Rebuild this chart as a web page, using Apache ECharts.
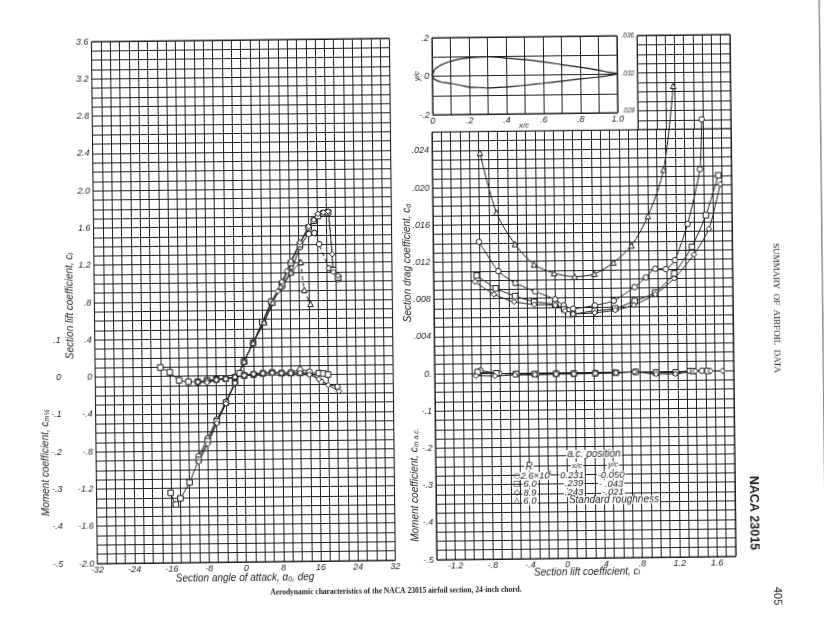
<!DOCTYPE html>
<html><head><meta charset="utf-8">
<style>html,body{margin:0;padding:0;background:#fff;overflow:hidden}#c{width:824px;height:636px;transform:rotate(-0.65deg);transform-origin:412px 318px}</style>
<script src="https://cdn.jsdelivr.net/npm/echarts@6/dist/echarts.min.js"></script>
</head><body><div id="c"></div>
<script>
// ---- left panel: section angle of attack vs. lift coefficient ----
const liftCircle=[[-10,-.86],[-8,-.67],[-6,-.47],[-4,-.28],[-2,-.07],[0,.15],[2,.35],[4,.56],[6,.77],[8.4,.95],[10.3,1.1],[12.3,1.37],[14.2,1.51],[15.4,1.52]];
const liftCircleStall=[[15.4,1.52],[16.4,1.4],[18.5,1.14],[20.4,1.02]];
const liftSquare=[[-16.1,-1.25],[-15,-1.375],[-14,-1.31],[-12,-1.14],[-10,-.9],[-8,-.7],[-6,-.49],[-4,-.29],[-2,-.08],[0,.15],[2,.35],[4,.57],[6,.79],[8.3,.98],[10.3,1.2],[12.3,1.4],[14.2,1.58],[15.3,1.65],[16.2,1.7],[17.4,1.73]];
const liftSquareStall=[[17.4,1.73],[18.4,1.74],[19.4,1.12],[20.4,1.04]];
const liftDiamond=[[-10,-.92],[-8,-.73],[-6,-.51],[-4,-.3],[-2,-.08],[0,.15],[2,.35],[4.4,.57],[6.4,.79],[7.4,.9],[8.3,1],[9.4,1.115],[10.3,1.22],[12.3,1.42],[14.2,1.59],[15.3,1.66],[16.2,1.725],[17.4,1.74],[18.4,1.75]];
const liftDiamondStall=[[18.4,1.75],[19.2,1.29],[19.4,1.1],[20.4,1.06]];
const liftRough=[[0,.15],[2,.35],[4.4,.57],[6.3,.78],[8,.95],[10.3,1.1],[12.4,1.21]];
const liftRoughStall=[[12.4,1.21],[13.1,.91],[14.4,.76]];
const momentSquareAlpha=[[-18,.024],[-16,.011],[-14,-.011],[-12,-.015],[-10,-.015],[-8,-.012],[-6,-.01],[-4,-.008],[-2,-.004],[-1,.006],[0,0],[2,.002],[4,.005],[6,.007],[8,.005],[10,.005],[12,.005],[14,.004],[16,.004],[17,.003],[18,0]];
const momentCircleAlpha=[[-10,-.017],[-8,-.015],[-6,-.011],[-4,-.008],[-2,-.004],[0,.001],[2,.004],[4,.006],[6,.007],[8,.006],[10,.007],[12,.014],[14,.008],[16.5,-.019],[20,-.033]];
const momentDiamondAlpha=[[-10,-.016],[-8,-.018],[-6,-.011],[-4,-.009],[-2,-.004],[0,0],[2,.004],[4,.005],[6,.006],[8,.005],[10,.004],[12,.005],[14,0],[16,-.012],[18,-.028],[20.3,-.045]];
// ---- right panel: lift coefficient vs. drag coefficient ----
const dragCircle=[[-.909,.01405],[-.706,.01088],[-.525,.00958],[-.315,.00866],[-.102,.00778],[-.01,.00713],[.09,.00676],[.322,.00709],[.526,.00757],[.75,.00901],[.872,.01003],[.973,.01095],[1.087,.0109],[1.185,.01185],[1.325,.0157],[1.464,.02157],[1.488,.02693]];
const dragSquare=[[-.938,.01045],[-.736,.00904],[-.53,.00819],[-.327,.00756],[-.102,.00725],[-.007,.00671],[.039,.00616],[.089,.00618],[.321,.00652],[.54,.00674],[.748,.00751],[.97,.00838],[1.176,.01042],[1.369,.01326],[1.522,.01663],[1.66,.0209]];
const dragDiamond=[[-.957,.00977],[-.755,.00839],[-.541,.00758],[-.326,.00726],[-.102,.00714],[0,.00655],[.089,.00619],[.32,.0063],[.54,.00656],[.74,.00708],[.97,.0082],[1.176,.00989],[1.39,.01243],[1.553,.01516],[1.68,.01995]];
const dragRough=[[-.888,.0236],[-.72,.01717],[-.524,.01376],[-.323,.01156],[-.11,.0106],[.111,.0102],[.322,.01048],[.527,.01167],[.722,.01347],[.901,.0166],[1.075,.02158],[1.188,.03054]];
const momentCircleLift=[[-.91,.006],[-.71,-.002],[-.52,-.004],[-.31,-.005],[-.1,-.005],[.09,-.005],[.32,-.004],[.53,-.003],[.75,-.002],[.97,-.004],[1.18,-.004],[1.33,-.001],[1.46,-.001]];
const momentSquareLift=[[-.94,.002],[-.74,-.002],[-.53,-.004],[-.33,-.005],[-.1,-.005],[.09,-.005],[.32,-.005],[.54,-.004],[.75,-.002],[.97,-.005],[1.18,-.005],[1.37,-.002],[1.52,-.002]];
const momentDiamondLift=[[-.957,-.008],[-.755,-.009],[-.54,-.007],[-.326,-.007],[-.1,-.006],[.09,-.006],[.32,-.005],[.54,-.004],[.74,-.002],[.97,-.009],[1.176,-.009],[1.39,-.002],[1.553,-.002],[1.68,-.002]];
// ---- inset: airfoil section ----
const airfoilUpper=[[0,0],[.0125,.0334],[.025,.0444],[.05,.0589],[.075,.069],[.1,.0764],[.15,.0875],[.2,.0936],[.25,.097],[.3,.098],[.4,.0902],[.5,.0812],[.6,.068],[.7,.053],[.8,.038],[.9,.021],[.95,.011],[1,.002]];
const airfoilLower=[[1,.002],[.95,-.007],[.9,-.013],[.8,-.023],[.7,-.033],[.6,-.043],[.5,-.052],[.4,-.06],[.3,-.064],[.25,-.061],[.2,-.059],[.15,-.048],[.1,-.039],[.075,-.034],[.05,-.031],[.025,-.0225],[.0125,-.0154],[0,0]];

const INK='#1c1c1c', GRID='#1e1e1e';
const FONT='"Liberation Sans"';
const TICK=9;
const S=Math.sin(0.65*Math.PI/180);
// reference-page position -> position on the slightly turned sheet
const at=(x,y)=>[x-(y-318)*S, y+(x-412)*S];
const dec=(v,d)=>{ if(Math.abs(v)<1e-9) return '0'; return (v<0?'-':'')+Math.abs(v).toFixed(d).replace(/^0/,''); };
const lab=(size,margin)=>({show:true,fontFamily:FONT,fontStyle:'italic',fontSize:size,color:INK,margin:margin});
const split={show:true,lineStyle:{color:GRID,width:1}};
const off={show:false};
function axis(min,max,interval,fmt,size,extra,margin){
  return Object.assign({type:'value',min,max,interval,axisLine:off,axisTick:off,
    splitLine:split,axisLabel:fmt?Object.assign(lab(size,margin===undefined?4:margin),{formatter:fmt}):off},extra||{});
}
const hidden=(min,max,gridIndex)=>({type:'value',gridIndex,min,max,show:false,splitLine:off});
const every=(n,f)=>v=>{const k=Math.round(v*10);return k%n===0?f(v):'';};

const xAxis=[
  axis(-32,32,2,v=>Math.round(v)%8===0?String(Math.round(v)):'',TICK,{gridIndex:0},2),
  axis(-1.4,1.8,.1,every(4,v=>dec(v,1)),TICK,{gridIndex:1},2),
  axis(.8,1.8,.1,null,0,{gridIndex:2}),
  axis(0,1,.1,every(2,v=>Math.abs(v-1)<1e-9?'1.0':dec(v,1)),TICK,{gridIndex:3},2),
  hidden(-1.4,1.8,4)
];
const yAxis=[
  axis(-2,3.6,.1,every(4,v=>dec(v,1)),TICK,{gridIndex:0},3),
  {type:'value',gridIndex:0,position:'left',offset:30,min:-.5,max:.9,interval:.1,axisLine:off,axisTick:off,splitLine:off,
    axisLabel:Object.assign(lab(TICK,4),{formatter:v=>v>.11?'':dec(v,1)})},
  axis(-.02,.026,.001,v=>{const k=Math.round(v*1000);if(k%4!==0)return '';if(k===0)return '0.';return k>0?dec(v,3):dec(v*25,1);},TICK,{gridIndex:1},3),
  axis(.026,.036,.001,v=>{const k=Math.round(v*1000);return k%4===0?dec(v,3):'';},6.5,{gridIndex:2},3),
  axis(-.2,.2,.1,v=>Math.round(v*10)%2===0?dec(v,1):'',TICK,{gridIndex:3},3),
  hidden(-.02,.036,4),
  hidden(-.5,.9,4)
];
const grid=[
  {left:94.6,top:38,width:298,height:522},
  {left:434,top:132.3,width:299,height:427.7},
  {left:640.2,top:38,width:92.8,height:94.3},
  {left:435,top:38,width:185,height:77},
  {left:434,top:38,width:299,height:522}
].map(g=>Object.assign(g,{show:true,borderColor:INK,borderWidth:1,containLabel:false,backgroundColor:'transparent'}));
grid[4].show=false;

const mark=(name,data,symbol,x,y,o)=>Object.assign({type:'line',name,data,symbol,symbolSize:5.5,xAxisIndex:x,yAxisIndex:y,clip:false,
  showSymbol:true,animation:false,smooth:.2,z:5,lineStyle:{color:INK,width:1},itemStyle:{color:'#fff',borderColor:INK,borderWidth:1}},o||{});
const stall=(name,data,symbol)=>mark(name,data,symbol,0,0,{lineStyle:{color:INK,width:1,type:[4,3]}});

const series=[
  mark('lift 2.6',liftCircle,'circle',0,0),stall('lift 2.6 stall',liftCircleStall,'circle'),
  mark('lift 6.0',liftSquare,'rect',0,0),stall('lift 6.0 stall',liftSquareStall,'rect'),
  mark('lift 8.9',liftDiamond,'diamond',0,0),stall('lift 8.9 stall',liftDiamondStall,'diamond'),
  mark('lift rough',liftRough,'triangle',0,0),stall('lift rough stall',liftRoughStall,'triangle'),
  mark('cm 6.0',momentSquareAlpha,'rect',0,1),
  mark('cm 2.6',momentCircleAlpha,'circle',0,1),
  mark('cm 8.9',momentDiamondAlpha,'diamond',0,1),
  mark('cd 2.6',dragCircle,'circle',4,5),
  mark('cd 6.0',dragSquare,'rect',4,5),
  mark('cd 8.9',dragDiamond,'diamond',4,5),
  mark('cd rough',dragRough,'triangle',4,5,{smooth:.3}),
  mark('cmac 2.6',momentCircleLift,'circle',4,6),
  mark('cmac 6.0',momentSquareLift,'rect',4,6),
  mark('cmac 8.9',momentDiamondLift,'diamond',4,6),
  mark('airfoil',airfoilUpper.concat(airfoilLower.slice(1)),'none',3,4,{smooth:.4,lineStyle:{color:INK,width:1.2}})
];

const sty=(size)=>({fontFamily:FONT,fontStyle:'italic',fontSize:size,fill:INK});
const richSub={s:{fontFamily:FONT,fontStyle:'italic',fontSize:7,fill:INK,verticalAlign:'bottom'}};
function text(t,x,y,opt){
  opt=opt||{};
  const p=at(x,y);
  return {type:'text',x:p[0],y:p[1],rotation:opt.rot||0,z:opt.z||1,
    style:Object.assign(sty(opt.size||10),{text:t,align:opt.align||'center',verticalAlign:'middle',rich:richSub},opt.style||{})};
}
const UP=Math.PI/2, DOWN=-Math.PI/2;
const plate={backgroundColor:'#fff',padding:[0,1,0,1],lineHeight:8};
const keyGlyph={fontFamily:'"DejaVu Sans"',fontStyle:'normal',fontWeight:'bold'};
const SERIF='"Liberation Serif"';
const graphic=[
  text('Section lift coefficient, c{s|l}',70,306,{rot:UP}),
  text('Moment coefficient, c{s|m¼}',46,463,{rot:UP}),
  text('Section angle of attack, \u03B1{s|0}, deg',245,578),
  text('Section drag coefficient, c{s|d}',408,263,{rot:UP}),
  text('Moment coefficient, c{s|m a.c.}',415,485,{rot:UP}),
  text('Section lift coefficient, c{s|l}',587,572),
  text('y/c',417,76,{rot:UP,size:8}),
  text('x/c',524,126,{size:8}),
  text('a.c. position',594,454,{z:6,style:plate}),
  text('R',529,467,{z:6,style:plate}),
  text('x/c',577,466,{z:6,size:8,style:plate}),
  text('y/c',613,465,{z:6,size:8,style:plate}),
  text('\u25CB',517,476,{z:7,size:8,style:keyGlyph}),
  text('2.6\u00D710',535,476,{z:6,size:9.5,style:plate}),
  text('6',550,473,{z:7,size:5}),
  text('0.231',572,476,{z:6,size:9.5,style:plate}),
  text('-0.050',611,475,{z:6,size:9.5,style:plate}),
  text('\u25A1',517,484,{z:7,size:8,style:keyGlyph}),
  text('6.0',530,484,{z:6,size:9.5,style:plate}),
  text('.239',574,484,{z:6,size:9.5,style:plate}),
  text('- .043',611,484,{z:6,size:9.5,style:plate}),
  text('\u25C7',517,493,{z:7,size:8,style:keyGlyph}),
  text('8.9',530,493,{z:6,size:9.5,style:plate}),
  text('.243',574,493,{z:6,size:9.5,style:plate}),
  text('-.021',613,492,{z:6,size:9.5,style:plate}),
  text('\u25B3',517,501,{z:7,size:8,style:keyGlyph}),
  text('6.0',530,501,{z:6,size:9.5,style:plate}),
  text('Standard roughness',614,500,{z:6,style:plate}),
  text('Aerodynamic characteristics of the NACA 23015 airfoil section, 24-inch chord.',396,591,{size:7.5,style:{fontFamily:SERIF,fontStyle:'normal',fontWeight:'bold'}}),
  text('SUMMARY  OF  AIRFOIL  DATA',776,308,{rot:DOWN,size:9,style:{fontFamily:SERIF,fontStyle:'normal'}}),
  text('NACA 23015',754,513,{rot:DOWN,size:12.5,style:{fontFamily:FONT,fontStyle:'normal',fontWeight:'bold'}}),
  text('405',777,596,{rot:DOWN,size:11,style:{fontFamily:FONT,fontStyle:'normal'}}),
  {type:'rect',z:1,shape:{x:822,y:-5,width:1.5,height:646},style:{fill:'#8a8a8a'}}
];

const chart=echarts.init(document.getElementById('c'),null,{renderer:'canvas'});
chart.setOption({animation:false,backgroundColor:'#fff',grid,xAxis,yAxis,series,graphic});
</script></body></html>
